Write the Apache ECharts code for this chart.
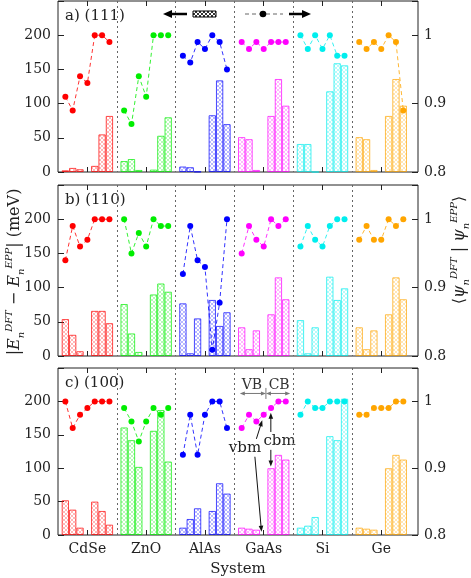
<!DOCTYPE html>
<html><head><meta charset="utf-8">
<script src="https://cdn.jsdelivr.net/npm/echarts@6/dist/echarts.min.js"></script>
<style>html,body{margin:0;padding:0;background:#fff}#c{width:471px;height:578px}</style>
</head><body><div id="c"></div>
<script>
const systems = ['CdSe', 'ZnO', 'AlAs', 'GaAs', 'Si', 'Ge'];
const colors = ['#ff0000', '#00ee00', '#0000ff', '#ff00ff', '#00eeee', '#ffa500'];
const panelLabels = ['a) (111)', 'b) (110)', 'c) (100)'];

// |E_DFT - E_EPP| in meV, per system: 3 VB bands then 3 CB bands
const barsA = [
  [2.5, 6, 4, 9, 55, 82],
  [16, 19, 3, 3.5, 53, 80],
  [8, 7, 0.5, 83, 134, 70],
  [51, 48, 3, 82, 136, 97],
  [41, 41, 0, 118, 159, 156],
  [51, 48, 3, 82, 136, 97]
];
const barsB = [
  [54, 31, 7, 66, 66, 48],
  [76, 33, 6, 90, 106, 94],
  [77, 4, 55, 82, 44, 64],
  [42, 10, 37.5, 61, 115, 83],
  [52.5, 4, 42, 116, 82, 99],
  [42, 10, 37.5, 61, 115, 83]
];
const barsC = [
  [52, 38, 11, 50, 36, 15.5],
  [161, 142, 102, 156, 187, 110],
  [11, 24, 40, 36, 77.5, 62],
  [11, 9.5, 8, 100, 120, 113],
  [11, 14, 27, 148, 142, 204],
  [11, 9.5, 8, 100, 120, 113]
];
// overlap <psi_DFT|psi_EPP>, 7 points per system
const overlapA = [
  [0.91, 0.89, 0.94, 0.93, 1.0, 1.0, 0.99],
  [0.89, 0.87, 0.94, 0.91, 1.0, 1.0, 1.0],
  [0.97, 0.96, 0.99, 0.98, 1.0, 0.99, 0.95],
  [0.99, 0.98, 0.99, 0.98, 0.99, 0.99, 0.99],
  [1.0, 0.98, 1.0, 0.98, 1.0, 0.97, 0.97],
  [0.99, 0.98, 0.99, 0.98, 1.0, 0.99, 0.89]
];
const overlapB = [
  [0.94, 0.99, 0.96, 0.97, 1.0, 1.0, 1.0],
  [1.0, 0.95, 0.98, 0.96, 1.0, 0.99, 0.99],
  [0.92, 0.99, 0.94, 0.93, 0.809, 0.878, 1.0],
  [0.95, 0.99, 0.97, 0.96, 1.0, 0.99, 1.0],
  [0.96, 0.99, 0.97, 0.96, 0.99, 1.0, 1.0],
  [0.97, 0.99, 0.97, 0.97, 1.0, 0.99, 1.0]
];
const overlapC = [
  [1.0, 0.96, 0.98, 0.99, 1.0, 1.0, 1.0],
  [0.99, 0.97, 0.94, 0.97, 0.99, 0.98, 0.99],
  [0.92, 0.98, 0.92, 0.98, 1.0, 1.0, 0.96],
  [0.96, 0.98, 0.97, 0.98, 0.99, 1.0, 1.0],
  [0.98, 1.0, 0.99, 0.99, 1.0, 1.0, 1.0],
  [0.98, 0.98, 0.99, 0.99, 0.99, 1.0, 1.0]
];
const leftTicks = [0, 50, 100, 150, 200];
const rightTicks = [0.8, 0.9, 1];

const barSlots = [1, 2, 3, 5, 6, 7];
const pointSlots = [1, 2, 3, 4, 5, 6, 7];
const NSLOT = 50;
const slots = Array.from({length: NSLOT}, (_, i) => String(i));

const F = '"DejaVu Serif", serif';
const TXT = '#222';
const GL = 58, GW = 360;
const tops = [1, 185, 368], heights = [171, 171, 172];

function hatch(col, alpha) {
  const c = document.createElement('canvas');
  c.width = c.height = 4;
  const x = c.getContext('2d');
  x.globalAlpha = alpha;
  x.strokeStyle = col;
  x.lineWidth = 0.8;
  x.beginPath();
  x.moveTo(0, 0); x.lineTo(4, 4);
  x.moveTo(4, 0); x.lineTo(0, 4);
  x.stroke();
  return c;
}

const chart = echarts.init(document.getElementById('c'), null, {renderer: 'canvas'});
const allBars = [barsA, barsB, barsC];
const allOv = [overlapA, overlapB, overlapC];

const grid = [], xAxis = [], yAxis = [], series = [];
for (let g = 0; g < 3; g++) {
  grid.push({left: GL, width: GW, top: tops[g], height: heights[g], show: true,
    borderColor: '#222', borderWidth: 1, backgroundColor: 'transparent'});
  xAxis.push({
    type: 'category', gridIndex: g, data: slots, boundaryGap: false, position: 'bottom',
    axisLine: {show: false},
    axisTick: {show: true, inside: true, length: 5, interval: (i) => i % 8 === 4, lineStyle: {color: '#222'}},
    axisLabel: {show: g === 2, interval: (i) => i % 8 === 4, formatter: (v, i) => systems[(i - 4) / 8] || '',
      fontFamily: F, fontSize: 14, color: TXT, margin: 7},
    splitLine: {show: true, interval: (i) => i % 8 === 0 && i > 0 && i < 48,
      lineStyle: {type: [2, 3], color: '#666', width: 1}},
    name: g === 2 ? 'System' : '', nameLocation: 'middle', nameGap: 27,
    nameTextStyle: {fontFamily: F, fontSize: 15, color: TXT}
  });
  xAxis.push({
    type: 'category', gridIndex: g, data: slots, boundaryGap: false, position: 'top',
    axisLine: {show: false},
    axisTick: {show: true, inside: true, length: 5, interval: (i) => i % 8 === 4, lineStyle: {color: '#222'}},
    axisLabel: {show: false}, splitLine: {show: false}
  });
  yAxis.push({
    type: 'value', gridIndex: g, min: 0, max: 250, interval: 50, position: 'left',
    axisLine: {show: false},
    axisTick: {show: true, inside: true, length: 6, lineStyle: {color: '#222'}},
    axisLabel: {formatter: (v) => leftTicks.includes(v) ? String(v) : '', fontFamily: F, fontSize: 14, color: TXT, margin: 7},
    splitLine: {show: false}
  });
  yAxis.push({
    type: 'value', gridIndex: g, min: 0.8, max: 1.05, interval: 0.1, position: 'right',
    axisLine: {show: false},
    axisTick: {show: true, inside: true, length: 6, lineStyle: {color: '#222'}},
    axisLabel: {formatter: (v) => {
        const t = rightTicks.find(r => Math.abs(r - v) < 1e-6);
        return t === undefined ? '' : (t === 1 ? '1' : t.toFixed(1));
      }, fontFamily: F, fontSize: 14, color: TXT, margin: 6, showMaxLabel: true},
    splitLine: {show: false}
  });

  const barData = new Array(NSLOT).fill(null);
  allBars[g].forEach((vals, s) => {
    vals.forEach((v, k) => {
      barData[8 * s + barSlots[k]] = {
        value: v,
        itemStyle: {color: {image: hatch(colors[s], 0.5), repeat: 'repeat'},
          borderColor: colors[s], borderWidth: 1, opacity: 0.7}
      };
    });
  });
  series.push({type: 'bar', xAxisIndex: 2 * g, yAxisIndex: 2 * g, data: barData,
    barCategoryGap: '0%', barGap: '0%', z: 2, animation: false, silent: true});

  allOv[g].forEach((vals, s) => {
    const d = new Array(NSLOT).fill(null);
    vals.forEach((v, k) => { d[8 * s + pointSlots[k]] = v; });
    series.push({type: 'line', xAxisIndex: 2 * g, yAxisIndex: 2 * g + 1, data: d,
      symbol: 'circle', symbolSize: 6, showSymbol: true, showAllSymbol: true, connectNulls: false,
      itemStyle: {color: colors[s]},
      lineStyle: {color: colors[s], width: 1, type: [4, 3], opacity: 0.8},
      z: 4, animation: false, silent: true});
  });
}

// helpers for annotation placement in panel c (data units -> px)
const pxX = (slot) => GL + slot * GW / (NSLOT - 1);
const pxY = (g, v) => tops[g] + heights[g] * (1 - v / 250);

function arrow(x1, y1, x2, y2, opt) {
  const o = Object.assign({w: 1, hl: 6, hw: 2.5, color: '#222', start: false, end: true}, opt || {});
  const els = [];
  const dx = x2 - x1, dy = y2 - y1, L = Math.hypot(dx, dy);
  const ux = dx / L, uy = dy / L, nx = -uy, ny = ux;
  let sx = x1, sy = y1, ex = x2, ey = y2;
  if (o.end) { ex = x2 - ux * o.hl * 0.8; ey = y2 - uy * o.hl * 0.8; }
  if (o.start) { sx = x1 + ux * o.hl * 0.8; sy = y1 + uy * o.hl * 0.8; }
  els.push({type: 'line', shape: {x1: sx, y1: sy, x2: ex, y2: ey}, style: {stroke: o.color, lineWidth: o.w}, silent: true});
  const head = (tx, ty, dirx, diry) => ({type: 'polygon', silent: true,
    shape: {points: [[tx, ty], [tx - dirx * o.hl + nx * o.hw, ty - diry * o.hl + ny * o.hw],
      [tx - dirx * o.hl - nx * o.hw, ty - diry * o.hl - ny * o.hw]]},
    style: {fill: o.color}});
  if (o.end) els.push(head(x2, y2, ux, uy));
  if (o.start) els.push(head(x1, y1, -ux, -uy));
  return els;
}

const graphic = [];
panelLabels.forEach((t, g) => {
  graphic.push({type: 'text', x: 65, y: tops[g] + 15, silent: true,
    style: {text: t, font: '15px ' + F, fill: TXT, align: 'left', verticalAlign: 'middle'}});
});

// legend (panel a)
const legY = 14;
graphic.push(...arrow(187, legY, 163, legY, {w: 2.5, hl: 9, hw: 4, color: '#000'}));
graphic.push({type: 'rect', shape: {x: 193, y: 11, width: 23, height: 6}, silent: true,
  style: {fill: {image: hatch('#000', 1), repeat: 'repeat'}, stroke: '#000', lineWidth: 1}});
graphic.push({type: 'line', shape: {x1: 245, y1: legY, x2: 283, y2: legY}, silent: true,
  style: {stroke: '#666', lineWidth: 1, lineDash: [4, 3]}});
graphic.push({type: 'circle', shape: {cx: 263, cy: legY, r: 3.3}, silent: true, style: {fill: '#000'}});
graphic.push(...arrow(289, legY, 311, legY, {w: 2.5, hl: 9, hw: 4, color: '#000'}));

// axis titles
graphic.push({type: 'text', x: 15, y: 272, rotation: Math.PI / 2, silent: true,
  style: {
    text: '{m||}{i|E}{sb|n}{sp|DFT}{m| − }{i|E}{sb|n}{sp|EPP}{m|| (meV)}',
    align: 'center', verticalAlign: 'middle',
    rich: {
      m: {fontSize: 16, fontFamily: F, fill: TXT, lineHeight: 22},
      i: {fontSize: 16, fontFamily: F, fontStyle: 'italic', fill: TXT, lineHeight: 22},
      sb: {fontSize: 10, fontFamily: F, fontStyle: 'italic', fill: TXT, verticalAlign: 'bottom'},
      sp: {fontSize: 10, fontFamily: F, fontStyle: 'italic', fill: TXT, verticalAlign: 'top'}
    }
  }});
graphic.push({type: 'text', x: 460, y: 250, rotation: Math.PI / 2, silent: true,
  style: {
    text: '{m|⟨}{i|ψ}{sb|n}{sp|DFT}{m| | }{i|ψ}{sb|n}{sp|EPP}{m|⟩}',
    align: 'center', verticalAlign: 'middle',
    rich: {
      m: {fontSize: 16, fontFamily: F, fill: TXT, lineHeight: 22},
      i: {fontSize: 16, fontFamily: F, fontStyle: 'italic', fill: TXT, lineHeight: 22},
      sb: {fontSize: 10, fontFamily: F, fontStyle: 'italic', fill: TXT, verticalAlign: 'bottom'},
      sp: {fontSize: 10, fontFamily: F, fontStyle: 'italic', fill: TXT, verticalAlign: 'top'}
    }
  }});

// annotations in panel c (GaAs)
const G = 2;
graphic.push({type: 'text', x: pxX(26.4), y: pxY(G, 225), silent: true,
  style: {text: 'VB', font: '14px ' + F, fill: '#333', align: 'center', verticalAlign: 'middle'}});
graphic.push({type: 'text', x: pxX(30.1), y: pxY(G, 225), silent: true,
  style: {text: 'CB', font: '14px ' + F, fill: '#333', align: 'center', verticalAlign: 'middle'}});
graphic.push(...arrow(pxX(24.75), pxY(G, 213), pxX(28.3), pxY(G, 213), {start: true, end: true, hl: 5, hw: 2, color: '#777'}));
graphic.push(...arrow(pxX(28.3), pxY(G, 213), pxX(31.6), pxY(G, 213), {start: true, end: true, hl: 5, hw: 2, color: '#777'}));
graphic.push({type: 'line', shape: {x1: pxX(28.3), y1: pxY(G, 221), x2: pxX(28.3), y2: pxY(G, 205)}, silent: true,
  style: {stroke: '#777', lineWidth: 1}});
graphic.push({type: 'text', x: pxX(25.45), y: pxY(G, 134), silent: true,
  style: {text: 'vbm', font: '15px ' + F, fill: TXT, align: 'center', verticalAlign: 'middle'}});
graphic.push(...arrow(pxX(27.0), pxY(G, 147), pxX(27.8), pxY(G, 174), {hl: 6, hw: 2.3, color: '#111'}));
graphic.push(...arrow(pxX(26.8), pxY(G, 121), pxX(27.7), pxY(G, 12), {hl: 6, hw: 2.3, color: '#111'}));
graphic.push({type: 'text', x: pxX(30.15), y: pxY(G, 144), silent: true,
  style: {text: 'cbm', font: '15px ' + F, fill: TXT, align: 'center', verticalAlign: 'middle'}});
graphic.push(...arrow(pxX(28.97), pxY(G, 157), pxX(28.97), pxY(G, 185), {hl: 6, hw: 2.3, color: '#111'}));
graphic.push(...arrow(pxX(28.97), pxY(G, 131), pxX(28.97), pxY(G, 107), {hl: 6, hw: 2.3, color: '#111'}));

chart.setOption({
  animation: false,
  backgroundColor: '#fff',
  grid, xAxis, yAxis, series, graphic
});
</script>
</body></html>
